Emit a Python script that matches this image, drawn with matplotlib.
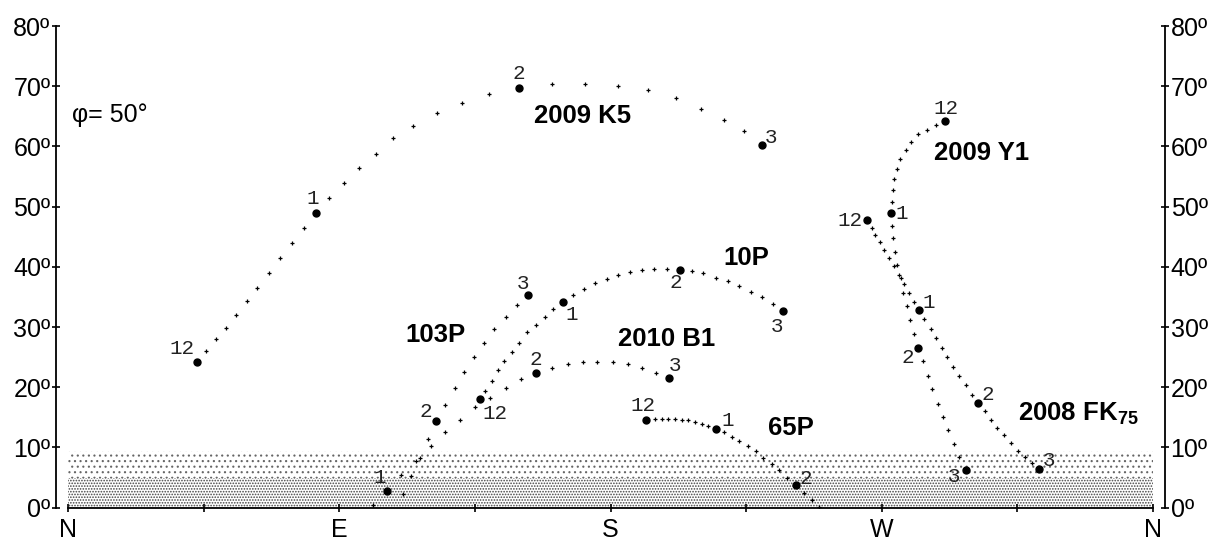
import matplotlib
matplotlib.use("Agg")
import matplotlib.pyplot as plt

plt.rcParams['font.family'] = 'Liberation Sans'
plt.rcParams['mathtext.fontset'] = 'custom'
plt.rcParams['mathtext.rm'] = 'Liberation Sans'
plt.rcParams['mathtext.bf'] = 'Liberation Sans:bold'
plt.rcParams['hatch.linewidth'] = 0.8

# ---- comet tracks: azimuth (deg from N through E) and altitude (deg) ----
# hour markers are given by index into the track, with their clock label

k5_az = [42.7, 45.7, 49.0, 52.4, 55.7, 59.5, 62.8, 66.6, 70.3, 74.2, 78.3, 82.3, 86.7, 91.7, 96.7,
         102.2, 107.9, 114.6, 122.3, 130.6, 139.8, 149.7, 160.7, 171.5, 182.4, 192.5, 201.7, 210.0,
         217.7, 224.3, 230.2]
k5_alt = [24.2, 26.1, 28.0, 29.9, 32.0, 34.3, 36.5, 38.9, 41.4, 43.9, 46.4, 48.9, 51.5, 54.0, 56.5,
          58.8, 61.4, 63.4, 65.5, 67.2, 68.7, 69.7, 70.3, 70.3, 70.1, 69.3, 68.0, 66.3, 64.4, 62.6, 60.3]
k5_hour_idx = [0, 11, 21, 30]
k5_hour_lbl = ['12', '1', '2', '3']

p103_az = [101.3, 105.9, 110.5, 115.5, 119.3, 122.1, 125.2, 128.5, 131.4, 134.7, 138.1, 141.4,
           145.2, 148.9, 152.7]
p103_alt = [0.5, 2.8, 5.4, 7.8, 11.4, 14.4, 17.1, 19.8, 22.5, 25.0, 27.4, 29.6, 31.7, 33.7, 35.3]
p103_hour_idx = [1, 5, 14]
p103_hour_lbl = ['1', '2', '3']

p10_az = [136.8, 138.5, 140.7, 142.7, 144.8, 147.3, 149.7, 152.2, 155.2, 158.3, 161.0, 164.3,
          167.7, 171.3, 174.9, 178.7, 182.4, 186.5, 190.4, 194.5, 198.6, 203.1, 207.1, 210.8,
          214.9, 218.9, 222.7, 226.5, 230.2, 234.0, 237.3]
p10_alt = [18.0, 19.4, 21.1, 22.8, 24.4, 25.9, 27.4, 29.1, 30.4, 31.7, 33.0, 34.2, 35.3, 36.3,
           37.3, 38.0, 38.7, 39.1, 39.5, 39.7, 39.7, 39.5, 39.3, 38.9, 38.2, 37.6, 36.8, 35.9,
           35.0, 33.8, 32.6]
p10_hour_idx = [0, 11, 21, 30]
p10_hour_lbl = ['12', '1', '2', '3']

b1_az = [111.3, 113.8, 116.8, 120.3, 125.2, 130.2, 135.1, 140.1, 145.2, 150.3, 155.2, 160.7,
         165.8, 170.8, 175.6, 180.7, 185.7, 190.4, 195.0, 199.5]
b1_alt = [2.2, 5.2, 8.3, 10.3, 12.5, 14.6, 16.7, 18.3, 19.8, 21.3, 22.3, 23.2, 23.8, 24.2, 24.2,
          24.2, 23.8, 23.2, 22.4, 21.6]
b1_hour_idx = [10, 19]
b1_hour_lbl = ['2', '3']

p65_az = [191.7, 194.8, 197.0, 199.2, 201.4, 203.6, 205.6, 208.0, 210.3, 212.4, 215.0, 217.7,
          220.2, 222.7, 225.5, 228.2, 230.7, 233.5, 236.0, 238.5, 241.4, 244.2, 247.0, 249.3]
p65_alt = [14.6, 14.7, 14.7, 14.7, 14.7, 14.6, 14.5, 14.2, 13.9, 13.6, 13.1, 12.5, 11.8, 11.0,
           10.3, 9.4, 8.3, 7.2, 6.2, 4.9, 3.7, 2.4, 1.3, 0.2]
p65_hour_idx = [0, 10, 20]
p65_hour_lbl = ['12', '1', '2']

y1_az = [291.1, 288.0, 284.9, 281.9, 279.6, 277.9, 276.1, 275.0, 274.1, 273.6, 273.3, 273.1,
         273.3, 273.6, 274.4, 275.0, 275.7, 277.0, 278.3, 279.4, 280.6, 282.0, 283.7, 285.2,
         286.6, 288.7, 290.4, 292.1, 294.1, 295.7, 297.9]
y1_alt = [64.2, 63.6, 62.7, 62.0, 60.7, 59.4, 57.9, 56.3, 54.6, 52.8, 50.8, 48.9, 46.8, 44.8,
          42.4, 40.3, 38.7, 35.7, 33.5, 31.1, 28.9, 26.5, 24.3, 21.9, 19.7, 17.3, 15.0, 12.9,
          10.6, 8.5, 6.2]
y1_hour_idx = [0, 11, 21, 30]
y1_hour_lbl = ['12', '1', '2', '3']

fk_az = [265.2, 266.7, 267.8, 269.4, 270.7, 272.4, 274.1, 276.4, 277.4, 279.0, 280.8, 282.4,
         284.1, 286.2, 287.9, 290.0, 291.5, 293.7, 295.7, 297.9, 299.9, 302.0, 304.2, 306.2,
         308.3, 310.5, 312.9, 315.1, 317.5, 319.8, 322.1]
fk_alt = [47.7, 46.4, 45.3, 44.1, 42.8, 41.4, 40.2, 38.1, 37.2, 35.7, 34.2, 32.8, 31.4, 29.7,
          28.2, 26.5, 25.1, 23.4, 21.9, 20.4, 18.8, 17.4, 16.0, 14.6, 13.3, 12.0, 10.8, 9.4,
          8.5, 7.4, 6.4]
fk_hour_idx = [0, 11, 21, 30]
fk_hour_lbl = ['12', '1', '2', '3']

x_ticks = [0, 90, 180, 270, 360]
x_labels = ['N', 'E', 'S', 'W', 'N']
y_ticks = [0, 10, 20, 30, 40, 50, 60, 70, 80]

# label offsets of the clock numbers (pixels, right / up)
k5_off = [(-15, 13), (-3, 15), (0, 15), (9, 7)]
p103_off = [(-7, 13), (-10, 9), (-5, 12)]
p10_off = [(15, -14), (9, -13), (-4, -13), (-6, -15)]
b1_off = [(0, 14), (6, 12)]
p65_off = [(-3, 14), (12, 8), (10, 7)]
y1_off = [(1, 13), (11, 0), (-10, -9), (-12, -6)]
fk_off = [(-17, 0), (10, 8), (10, 8), (10, 9)]

comets = [
    (k5_az, k5_alt, k5_hour_idx, k5_hour_lbl, k5_off),
    (p103_az, p103_alt, p103_hour_idx, p103_hour_lbl, p103_off),
    (p10_az, p10_alt, p10_hour_idx, p10_hour_lbl, p10_off),
    (b1_az, b1_alt, b1_hour_idx, b1_hour_lbl, b1_off),
    (p65_az, p65_alt, p65_hour_idx, p65_hour_lbl, p65_off),
    (y1_az, y1_alt, y1_hour_idx, y1_hour_lbl, y1_off),
    (fk_az, fk_alt, fk_hour_idx, fk_hour_lbl, fk_off),
]

fig = plt.figure(figsize=(12.23, 5.43), dpi=100)
ax = fig.add_axes([0.0458, 0.065, 0.9068, 0.8871])

# horizon haze bands
ax.fill_between([0, 360], 5, 9.5, facecolor='white', edgecolor='#666666', hatch='...', lw=0, zorder=0)
ax.fill_between([0, 360], 0, 5, facecolor='white', edgecolor='#444444', hatch='......', lw=0, zorder=0)

for az, alt, hidx, hlbl, offs in comets:
    small = [i for i in range(len(az)) if i not in hidx]
    ax.plot([az[i] for i in small], [alt[i] for i in small], ls='none', marker='+',
            ms=3, mew=0.9, color='black', zorder=3)
    ax.plot([az[i] for i in hidx], [alt[i] for i in hidx], ls='none', marker='o',
            ms=5, color='black', zorder=4)
    for i, lbl, off in zip(hidx, hlbl, offs):
        ax.annotate(lbl, (az[i], alt[i]), xytext=off, textcoords='offset pixels',
                    ha='center', va='center', fontsize=15, family='Liberation Mono',
                    color='#222222', zorder=5)

bold = dict(fontsize=18.5, fontweight='bold', ha='center', va='center', zorder=6)
ax.text(170.8, 65.1, '2009 K5', **bold)
ax.text(303.2, 58.9, '2009 Y1', **bold)
ax.text(225.2, 41.4, '10P', **bold)
ax.text(198.6, 28.0, '2010 B1', **bold)
ax.text(121.8, 28.7, '103P', **bold)
ax.text(239.9, 13.2, '65P', **bold)
ax.text(315.3, 15.6, r'2008 FK$_{\mathbf{75}}$', fontsize=18.5, fontweight='bold',
        ha='left', va='center', zorder=6)
ax.text(1.2, 65.2, 'φ= 50°', fontsize=18, ha='left', va='center')

ax.set_xlim(-4, 364)
ax.set_ylim(0, 80)
ax.set_xticks(x_ticks)
ax.set_xticklabels(x_labels)
ax.set_xticks([45, 135, 225, 315], minor=True)
ax.set_yticks(y_ticks)
ax.set_yticklabels([f'{v}º' for v in y_ticks])

for s in ['left', 'right', 'bottom']:
    ax.spines[s].set_linewidth(1.3)
ax.spines['top'].set_visible(False)
ax.spines['bottom'].set_bounds(0, 360)

ax.tick_params(axis='x', which='both', direction='inout', length=6, width=1.2,
               labelsize=18, pad=4.5)
ax.tick_params(axis='y', which='both', direction='inout', length=6, width=1.2,
               left=True, right=True, labelleft=True, labelright=True, labelsize=18, pad=1)

fig.savefig('out.png', dpi=100)
